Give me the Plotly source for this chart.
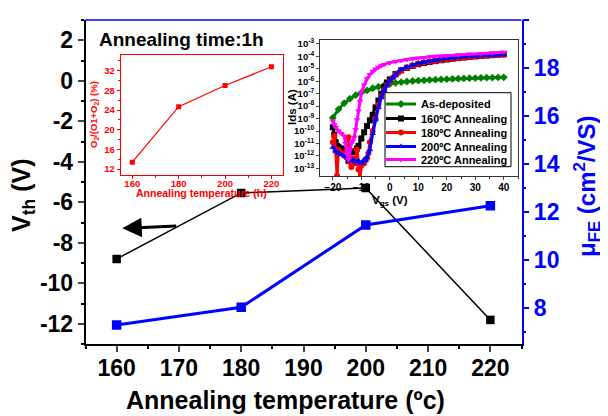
import plotly.graph_objects as go

# ---------------- main data ----------------
temps = [160, 180, 200, 220]
vth = [-8.80, -5.54, -5.30, -11.81]
mobility = [7.29, 8.03, 11.46, 12.26]

# ---------------- inset 1: oxygen ratio ----------------
o2_ratio = [13.4, 24.7, 29.0, 32.8]

# ---------------- inset 2: transfer curves (log10 Ids) ----------------
vgs_asdep = [-20, -18, -16, -14, -12, -10, -8, -6, -4, -2, 0, 2, 4, 6, 8, 10, 12, 14, 16, 18,
             20, 22, 24, 26, 28, 30, 32, 34, 36, 38, 40]
log_asdep = [-8.93, -8.26, -7.75, -7.40, -7.12, -6.92, -6.74, -6.56, -6.44, -6.33, -6.22, -6.13,
             -6.07, -6.02, -5.98, -5.95, -5.92, -5.89, -5.87, -5.85, -5.83, -5.81, -5.79, -5.77,
             -5.75, -5.74, -5.72, -5.71, -5.70, -5.69, -5.68]

vgs_160 = [-20, -19.5, -19, -18.5, -18, -17, -16, -15, -14.5, -14, -13, -12, -11.5, -11, -10, -9,
           -8, -7, -6, -5, -4, -3, -2, -1, 0, 2, 4, 6, 8, 10, 12, 14, 16, 18, 20, 22, 24, 26, 28,
           30, 32, 34, 36, 38, 40]
log_160 = [-9.7, -10.3, -10.9, -11.2, -11.3, -11.4, -11.5, -11.6, -12.4, -11.7, -11.7, -11.6,
           -11.4, -11.2, -10.6, -10.1, -9.6, -9.15, -8.7, -8.1, -7.55, -7.0, -6.45, -6.1, -5.85,
           -5.42, -5.12, -4.92, -4.76, -4.63, -4.53, -4.45, -4.38, -4.31, -4.25, -4.19, -4.14,
           -4.09, -4.04, -4.00, -3.96, -3.93, -3.90, -3.86, -3.83]

vgs_180 = [-20, -19.5, -19, -18.5, -18, -17, -16, -15, -14.5, -14, -13.5, -13, -12, -11.5, -11,
           -10.5, -10, -9, -8, -7.5, -7, -6, -5, -4, -3, -2, -1, 0, 1, 2, 3, 4, 6, 8, 10, 12, 14,
           16, 18, 20, 22, 24, 26, 28, 30, 32, 34, 36, 38, 40]
log_180 = [-10.9, -10.4, -11.6, -13.6, -11.5, -11.8, -12.0, -11.6, -10.5, -12.5, -12.9, -12.2,
           -12.6, -11.5, -13.1, -13.8, -12.8, -12.6, -12.2, -11.8, -10.9, -10.0, -9.0, -7.9,
           -7.25, -6.7, -6.3, -5.98, -5.72, -5.5, -5.32, -5.15, -4.9, -4.74, -4.61, -4.51, -4.43,
           -4.36, -4.29, -4.23, -4.18, -4.13, -4.08, -4.04, -4.00, -3.96, -3.93, -3.90, -3.88,
           -3.86]

vgs_200 = [-20, -19, -18, -17, -16, -15, -14, -13, -12, -11, -10, -9, -8.5, -8, -7, -6, -5, -4,
           -3, -2, -1, 0, 1, 2, 4, 6, 8, 10, 12, 14, 16, 18, 20, 22, 24, 26, 28, 30, 32, 34, 36,
           38, 40]
log_200 = [-11.3, -11.6, -11.8, -11.9, -12.0, -12.2, -12.4, -12.3, -12.5, -12.4, -12.6, -12.3,
           -12.4, -12.1, -11.5, -10.2, -9.1, -8.1, -7.3, -6.75, -6.3, -5.95, -5.7, -5.5, -5.05,
           -4.85, -4.70, -4.58, -4.47, -4.38, -4.30, -4.23, -4.17, -4.12, -4.07, -4.03, -3.99,
           -3.96, -3.93, -3.91, -3.89, -3.87, -3.86]

vgs_220 = [-20, -19.5, -19, -18, -17, -16, -15.5, -15, -14.5, -14, -13.5, -13, -12.5, -12, -11.5,
           -11, -10.5, -10, -9, -8, -7, -6, -5, -4, -3, -2, 0, 2, 4, 6, 8, 10, 12, 14, 16, 18, 20,
           24, 28, 32, 36, 40]
log_220 = [-9.2, -9.5, -9.7, -10.0, -10.2, -10.4, -11.0, -11.9, -12.3, -11.5, -11.0, -10.8,
           -10.5, -9.9, -9.1, -8.4, -7.6, -6.95, -6.3, -5.8, -5.45, -5.2, -5.02, -4.88, -4.76,
           -4.65, -4.50, -4.40, -4.32, -4.25, -4.19, -4.13, -4.08, -4.03, -3.99, -3.96, -3.93,
           -3.87, -3.81, -3.76, -3.71, -3.66]

ids_tick_exps = list(range(-13, -2))
main_x_ticks = [160, 170, 180, 190, 200, 210, 220]
main_y_ticks = [-12, -10, -8, -6, -4, -2, 0, 2]
right_y_ticks = [8, 10, 12, 14, 16, 18, 20]

FONT = "Liberation Sans"
# the page body has an 8px default margin: the figure starts at (8, 8) in the window
OFF = 8
W, H = 608 - OFF, 416 - OFF


def px(x):
    return (x - OFF) / W


def py(y):
    return 1 - (y - OFF) / H


fig = go.Figure()

# main traces
fig.add_trace(go.Scatter(x=temps, y=vth, mode="lines+markers", xaxis="x", yaxis="y",
                         line=dict(color="black", width=1.5),
                         marker=dict(symbol="square", size=8.5, color="black"), showlegend=False))
fig.add_trace(go.Scatter(x=temps, y=mobility, mode="lines+markers", xaxis="x", yaxis="y2",
                         line=dict(color="#0000FF", width=3),
                         marker=dict(symbol="square", size=9.5, color="#0000FF"), showlegend=False))

# inset 1
fig.add_trace(go.Scatter(x=temps, y=o2_ratio, mode="lines+markers", xaxis="x3", yaxis="y3",
                         line=dict(color="#FF0000", width=1.2),
                         marker=dict(symbol="square", size=5, color="#FF0000"), showlegend=False))

# inset 2
curves = [
    ("As-deposited", vgs_asdep, log_asdep, "#008000", "diamond"),
    ("160\u00baC Annealing", vgs_160, log_160, "#000000", "square"),
    ("180\u00baC Annealing", vgs_180, log_180, "#FF0000", "circle"),
    ("200\u00baC Annealing", vgs_200, log_200, "#0000FF", "triangle-up"),
    ("220\u00baC Annealing", vgs_220, log_220, "#FF00FF", "triangle-down"),
]
legend_names = ["legend", "legend2", "legend3", "legend4", "legend5"]
for (name, vx, ly, col, sym), lg in zip(curves, legend_names):
    fig.add_trace(go.Scatter(x=vx, y=[10 ** v for v in ly], mode="lines+markers", name=name,
                             xaxis="x4", yaxis="y4", legend=lg,
                             line=dict(color=col, width=3),
                             marker=dict(symbol=sym, size=6, color=col)))

main_dom_x = [px(85.5), px(521.5)]
main_dom_y = [py(344), py(20)]

bold = dict(family=FONT, weight="bold")

fig.update_layout(
    width=W, height=H, margin=dict(l=0, r=0, t=0, b=0, autoexpand=False),
    paper_bgcolor="white", plot_bgcolor="white",
    font=dict(family=FONT, color="black"),
    xaxis=dict(domain=main_dom_x, range=[155, 225], anchor="y", automargin=False,
               tickmode="array", tickvals=main_x_ticks, ticks="outside", ticklen=6, tickwidth=1.5,
               ticklabelstandoff=-3,
               minor=dict(dtick=5, tick0=155, ticks="outside", ticklen=3, tickwidth=1.5, tickcolor="black"),
               showline=True, linecolor="black", linewidth=1.5, showgrid=False, zeroline=False,
               tickfont=dict(size=23, color="black", **bold)),
    yaxis=dict(domain=main_dom_y, range=[-13, 3], anchor="x", automargin=False,
               tickmode="array", tickvals=main_y_ticks, ticktext=[str(v) for v in main_y_ticks],
               ticks="outside", ticklen=6, tickwidth=1.5,
               minor=dict(dtick=1, tick0=0, ticks="outside", ticklen=3, tickwidth=1.5, tickcolor="black"),
               showline=True, linecolor="black", linewidth=1.5, showgrid=False, zeroline=False,
               tickfont=dict(size=23, color="black", **bold)),
    yaxis2=dict(overlaying="y", side="right", anchor="x", range=[6.5, 20], automargin=False,
                tickmode="array", tickvals=right_y_ticks, ticks="outside", ticklen=6, tickwidth=1.5,
                tickcolor="#0000FF",
                minor=dict(dtick=1, tick0=0, ticks="outside", ticklen=3, tickwidth=1.5, tickcolor="#0000FF"),
                showline=True, linecolor="#0000FF", linewidth=1.5, showgrid=False, zeroline=False,
                tickfont=dict(size=23, color="#0000FF", **bold)),
    xaxis3=dict(domain=[px(120.7), px(283)], range=[155, 225], anchor="y3", automargin=False,
                tickmode="array", tickvals=[160, 180, 200, 220], ticks="outside", ticklen=3,
                tickcolor="#FF0000", ticklabelstandoff=-3,
                minor=dict(dtick=10, tick0=150, ticks="outside", ticklen=2, tickcolor="#FF0000"),
                showline=True, mirror=True, linecolor="#FF0000", linewidth=1, showgrid=False,
                zeroline=False, tickfont=dict(size=9.5, color="#FF0000", **bold)),
    yaxis3=dict(domain=[py(175), py(55)], range=[10.8, 35.2], anchor="x3", automargin=False,
                tickmode="array", tickvals=[12, 16, 20, 24, 28, 32], ticks="outside", ticklen=3,
                tickcolor="#FF0000",
                minor=dict(dtick=2, tick0=10, ticks="outside", ticklen=2, tickcolor="#FF0000"),
                showline=True, mirror=True, linecolor="#FF0000", linewidth=1, showgrid=False,
                zeroline=False, tickfont=dict(size=9.5, color="#FF0000", **bold)),
    xaxis4=dict(domain=[px(320), px(518)], range=[-24.5, 45], anchor="y4", automargin=False,
                tickmode="array", tickvals=[-20, -10, 0, 10, 20, 30, 40], ticks="outside", ticklen=3,
                ticklabelstandoff=-1,
                minor=dict(dtick=5, tick0=0, ticks="outside", ticklen=2, tickcolor="#333333"),
                showline=True, mirror=True, linecolor="#333333", linewidth=1, showgrid=False,
                zeroline=False, tickfont=dict(size=10, color="black", **bold)),
    yaxis4=dict(domain=[py(176), py(40)], type="log", range=[-13.62, -2.68], anchor="x4",
                automargin=False,
                tickmode="array", tickvals=[10 ** e for e in ids_tick_exps],
                ticktext=["10<sup>%d</sup>" % e for e in ids_tick_exps],
                ticks="outside", ticklen=3,
                showline=True, mirror=True, linecolor="#333333", linewidth=1, showgrid=False,
                zeroline=False, tickfont=dict(size=9.5, color="black", **bold)),
)

# one single-entry legend per curve, stacked inside a drawn box
legend_centers = [104, 118.5, 132.5, 146.5, 159.5]
for lg, yc in zip(legend_names, legend_centers):
    fig.update_layout({lg: dict(x=px(381), y=py(yc), xanchor="left", yanchor="middle",
                                bgcolor="rgba(0,0,0,0)", borderwidth=0,
                                font=dict(size=11, color="black", **bold),
                                itemwidth=30, tracegroupgap=0)})

# legend frame
fig.add_shape(type="rect", xref="paper", yref="paper", x0=px(385), x1=px(511),
              y0=py(166.7), y1=py(92.7), fillcolor="white", line=dict(color="black", width=1),
              layer="above")

# blue top frame line of the main plot
fig.add_shape(type="line", xref="paper", yref="paper", x0=main_dom_x[0], x1=main_dom_x[1],
              y0=main_dom_y[1], y1=main_dom_y[1], line=dict(color="#0000FF", width=1.5))

annotations = [
    dict(text="V<sub>th</sub> (V)", x=px(23), y=py(195), textangle=-90,
         font=dict(size=25, color="black", **bold)),
    dict(text="\u03bc<sub>FE</sub> (cm<sup>2</sup>/VS)", x=px(587), y=py(186), textangle=-90,
         font=dict(size=24, color="#0000FF", **bold)),
    dict(text="Annealing temperature (\u00bac)", x=px(285), y=py(400),
         font=dict(size=25, color="black", **bold)),
    dict(text="Annealing time:1h", x=px(181), y=py(40),
         font=dict(size=19, color="black", **bold)),
    dict(text="Annealing temperature (h)", x=px(202), y=py(193.5),
         font=dict(size=10.5, color="#FF0000", **bold)),
    dict(text="O<sub>2</sub>/(O1+O<sub>2</sub>) (%)", x=px(94), y=py(115), textangle=-90,
         font=dict(size=9.5, color="#FF0000", **bold)),
    dict(text="Ids (A)", x=px(292), y=py(107), textangle=-90,
         font=dict(size=11.5, color="black", **bold)),
    dict(text="V<sub>gs</sub> (V)", x=px(390), y=py(201),
         font=dict(size=11.5, color="black", **bold)),
]
for a in annotations:
    fig.add_annotation(xref="paper", yref="paper", showarrow=False,
                       xanchor="center", yanchor="middle", **a)

# arrow pointing to the left axis
arrow_tip = (160.9, -7.29)
arrow_tail = (169.8, -7.17)
fig.add_annotation(x=arrow_tip[0], y=arrow_tip[1], ax=arrow_tail[0], ay=arrow_tail[1],
                   xref="x", yref="y", axref="x", ayref="y", text="", showarrow=True,
                   arrowhead=2, arrowsize=1.3, arrowwidth=3, arrowcolor="black")

fig.write_html("out.html")
